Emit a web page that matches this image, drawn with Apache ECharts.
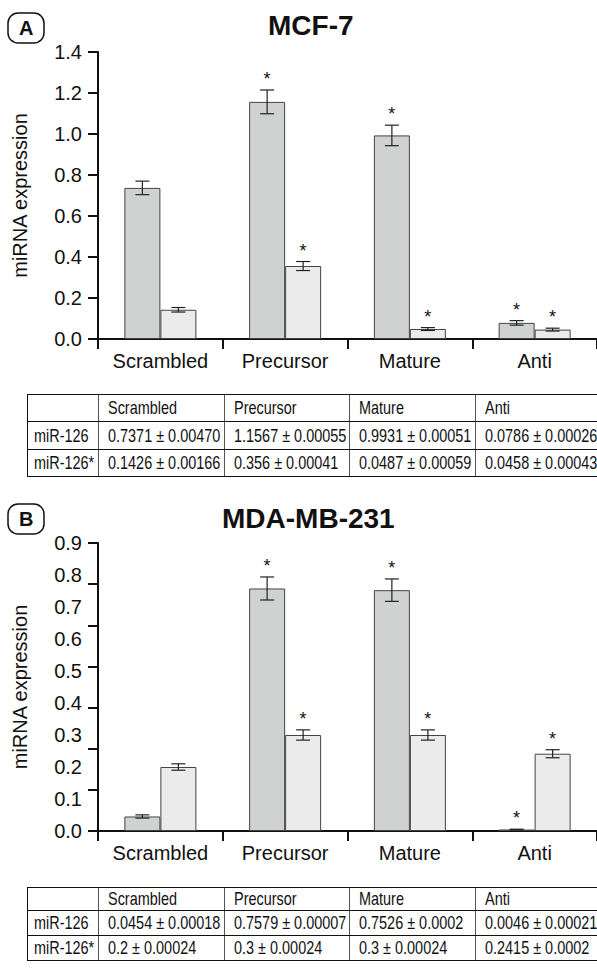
<!DOCTYPE html>
<html>
<head>
<meta charset="utf-8">
<script src="https://cdn.jsdelivr.net/npm/echarts@6/dist/echarts.min.js"></script>
<style>
  html, body { margin: 0; padding: 0; background: #fff; }
  #wrap { position: relative; width: 597px; height: 972px; overflow: hidden; }
  #chart { position: absolute; left: 0; top: 0; width: 597px; height: 972px; }
  table.dt { position: absolute; border-collapse: collapse; table-layout: fixed; font-family: "Liberation Sans", Arial, sans-serif; font-size: 19px; color: #111; }
  table.dt td { border-top: 1.5px solid #111; border-bottom: 1.5px solid #111; border-left: 1px solid #555; padding: 0 0 0 9px; white-space: nowrap; text-align: left; overflow: visible; box-sizing: border-box; }
  table.dt td:first-child { border-left: 1.5px solid #111; padding-left: 6px; }
  table.dt td span { display: inline-block; transform: scaleX(0.76); transform-origin: 0 50%; }
</style>
</head>
<body>
<div id="wrap">
  <div id="chart"></div>
</div>
<script>
// ---- data ----
const categories = ["Scrambled", "Precursor", "Mature", "Anti"];
const rowNames = ["miR-126", "miR-126*"];

// Panel A: MCF-7
const titleA = "MCF-7";
const a126 = [0.7371, 1.1567, 0.9931, 0.0786];
const a126s = [0.1426, 0.356, 0.0487, 0.0458];
const a126SE = ["0.00470", "0.00055", "0.00051", "0.00026"];
const a126sSE = ["0.00166", "0.00041", "0.00059", "0.00043"];
const a126Err = [0.033, 0.058, 0.050, 0.011];
const a126sErr = [0.011, 0.022, 0.007, 0.007];
const a126Sig = [0, 1, 1, 1];
const a126sSig = [0, 1, 1, 1];
const aTicks = [0, 1.4, 0.2];

// Panel B: MDA-MB-231
const titleB = "MDA-MB-231";
const b126 = [0.0454, 0.7579, 0.7526, 0.0046];
const b126s = [0.2, 0.3, 0.3, 0.2415];
const b126SE = ["0.00018", "0.00007", "0.0002", "0.00021"];
const b126sSE = ["0.00024", "0.00024", "0.00024", "0.0002"];
const b126Err = [0.005, 0.036, 0.035, 0.001];
const b126sErr = [0.010, 0.016, 0.016, 0.0125];
const b126Sig = [0, 1, 1, 1];
const b126sSig = [0, 1, 1, 1];
const bLabelTicks = [0, 0.9, 0.1];
const bMarkTickCount = 7;

// ---- style ----
const FONT = '"Liberation Sans", Arial, sans-serif';
const DARK = '#d0d2d1';
const LIGHT = '#ebebeb';
const BAR_W = 36;

function errData(vals, errs, sigs, s) {
  return vals.map((v, i) => [i, v, errs[i], sigs[i], s]);
}

function renderErr(params, api) {
  const i = api.value(0), v = api.value(1), e = api.value(2), sig = api.value(3), s = api.value(4);
  const c = api.coord([i, v]);
  const x = c[0] + (s === 0 ? -BAR_W / 2 : BAR_W / 2);
  const yTop = api.coord([i, v + e])[1];
  const yBot = api.coord([i, Math.max(v - e, 0)])[1];
  const cap = 7;
  const st = { stroke: '#222', lineWidth: 1.2 };
  const children = [
    { type: 'line', shape: { x1: x, y1: yTop, x2: x, y2: yBot }, style: st },
    { type: 'line', shape: { x1: x - cap, y1: yTop, x2: x + cap, y2: yTop }, style: st },
    { type: 'line', shape: { x1: x - cap, y1: yBot, x2: x + cap, y2: yBot }, style: st }
  ];
  if (sig) {
    children.push({ type: 'text', style: { x: x, y: yTop - 2, text: '*', fill: '#111', font: '18px ' + FONT, textAlign: 'center', textVerticalAlign: 'bottom' } });
  }
  return { type: 'group', children: children };
}

function barSeries(data, color, gi) {
  return {
    type: 'bar', xAxisIndex: gi, yAxisIndex: gi, data: data, barWidth: BAR_W, barGap: '0%',
    itemStyle: { color: color, borderColor: '#444', borderWidth: 1 },
    silent: true, animation: false
  };
}
function errSeries(data, gi) {
  return { type: 'custom', xAxisIndex: gi, yAxisIndex: gi, data: data, renderItem: renderErr, clip: false, silent: true, animation: false, z: 5 };
}

const axisLabelStyle = { fontSize: 20, color: '#111', fontFamily: FONT };
function xAxisCfg(gi) {
  return {
    type: 'category', gridIndex: gi, data: categories,
    axisLine: { lineStyle: { color: '#111', width: 2 } },
    axisTick: { show: true, length: 10, alignWithLabel: false, lineStyle: { color: '#111', width: 2 } },
    axisLabel: Object.assign({ margin: 12 }, axisLabelStyle)
  };
}
const yName = {
  name: 'miRNA expression', nameLocation: 'middle', nameGap: 68,
  nameTextStyle: { fontSize: 20, color: '#111', fontFamily: FONT }
};

const option = {
  animation: false,
  title: [
    { text: 'A', left: 8, top: 13, padding: [5, 11, 5, 11], borderColor: '#111', borderWidth: 1.5, borderRadius: 10,
      textStyle: { fontSize: 20, fontWeight: 'bold', color: '#111', fontFamily: FONT, lineHeight: 20 } },
    { text: titleA, left: 268, top: 11, padding: 0,
      textStyle: { fontSize: 28, fontWeight: 'bold', color: '#111', fontFamily: FONT } },
    { text: 'B', left: 8, top: 504, padding: [5, 11, 5, 11], borderColor: '#111', borderWidth: 1.5, borderRadius: 10,
      textStyle: { fontSize: 20, fontWeight: 'bold', color: '#111', fontFamily: FONT, lineHeight: 20 } },
    { text: titleB, left: 222, top: 504, padding: 0,
      textStyle: { fontSize: 28, fontWeight: 'bold', color: '#111', fontFamily: FONT } }
  ],
  grid: [
    { left: 98, top: 52, width: 501, height: 287 },
    { left: 98, top: 543, width: 501, height: 288 }
  ],
  xAxis: [xAxisCfg(0), xAxisCfg(1)],
  yAxis: [
    Object.assign({
      type: 'value', gridIndex: 0, position: 'left', min: aTicks[0], max: aTicks[1], interval: aTicks[2],
      axisLine: { show: true, lineStyle: { color: '#111', width: 2 } },
      axisTick: { show: true, length: 10, lineStyle: { color: '#111', width: 2 } },
      axisLabel: Object.assign({ margin: 16, formatter: v => v.toFixed(1) }, axisLabelStyle),
      splitLine: { show: false }
    }, yName),
    Object.assign({
      type: 'value', gridIndex: 1, position: 'left', min: bLabelTicks[0], max: bLabelTicks[1], interval: bLabelTicks[2],
      axisLine: { show: true, lineStyle: { color: '#111', width: 2 } },
      axisTick: { show: false },
      axisLabel: Object.assign({ margin: 16, formatter: v => v.toFixed(1) }, axisLabelStyle),
      splitLine: { show: false }
    }, yName),
    {
      type: 'value', gridIndex: 1, position: 'left', offset: 0, min: bLabelTicks[0], max: bLabelTicks[1],
      interval: (bLabelTicks[1] - bLabelTicks[0]) / bMarkTickCount,
      axisLine: { show: false },
      axisTick: { show: true, length: 10, lineStyle: { color: '#111', width: 2 } },
      axisLabel: { show: false },
      splitLine: { show: false }
    }
  ],
  series: [
    barSeries(a126, DARK, 0),
    barSeries(a126s, LIGHT, 0),
    errSeries(errData(a126, a126Err, a126Sig, 0).concat(errData(a126s, a126sErr, a126sSig, 1)), 0),
    barSeries(b126, DARK, 1),
    barSeries(b126s, LIGHT, 1),
    errSeries(errData(b126, b126Err, b126Sig, 0).concat(errData(b126s, b126sErr, b126sSig, 1)), 1)
  ]
};

const chart = echarts.init(document.getElementById('chart'), null, { renderer: 'svg', width: 597, height: 972 });
chart.setOption(option);

// ---- tables ----
function buildTable(top, rowH, v126, se126, v126s, se126s) {
  const t = document.createElement('table');
  t.className = 'dt';
  t.style.left = '27px';
  t.style.top = top + 'px';
  const widths = [71, 126, 125, 126, 124];
  const rows = [[''].concat(categories),
    [rowNames[0]].concat(v126.map((v, i) => String(v) + ' \u00b1 ' + se126[i])),
    [rowNames[1]].concat(v126s.map((v, i) => String(v) + ' \u00b1 ' + se126s[i]))];
  rows.forEach((r, ri) => {
    const tr = document.createElement('tr');
    tr.style.height = rowH[ri] + 'px';
    r.forEach((c, ci) => {
      const td = document.createElement('td');
      td.style.width = widths[ci] + 'px';
      const sp = document.createElement('span');
      sp.textContent = c;
      td.appendChild(sp);
      tr.appendChild(td);
    });
    t.appendChild(tr);
  });
  t.style.width = widths.reduce((a, b) => a + b, 0) + 'px';
  document.getElementById('wrap').appendChild(t);
}
buildTable(394, [27, 28, 27], a126, a126SE, a126s, a126sSE);
buildTable(887, [22, 25, 25], b126, b126SE, b126s, b126sSE);
</script>
</body>
</html>
